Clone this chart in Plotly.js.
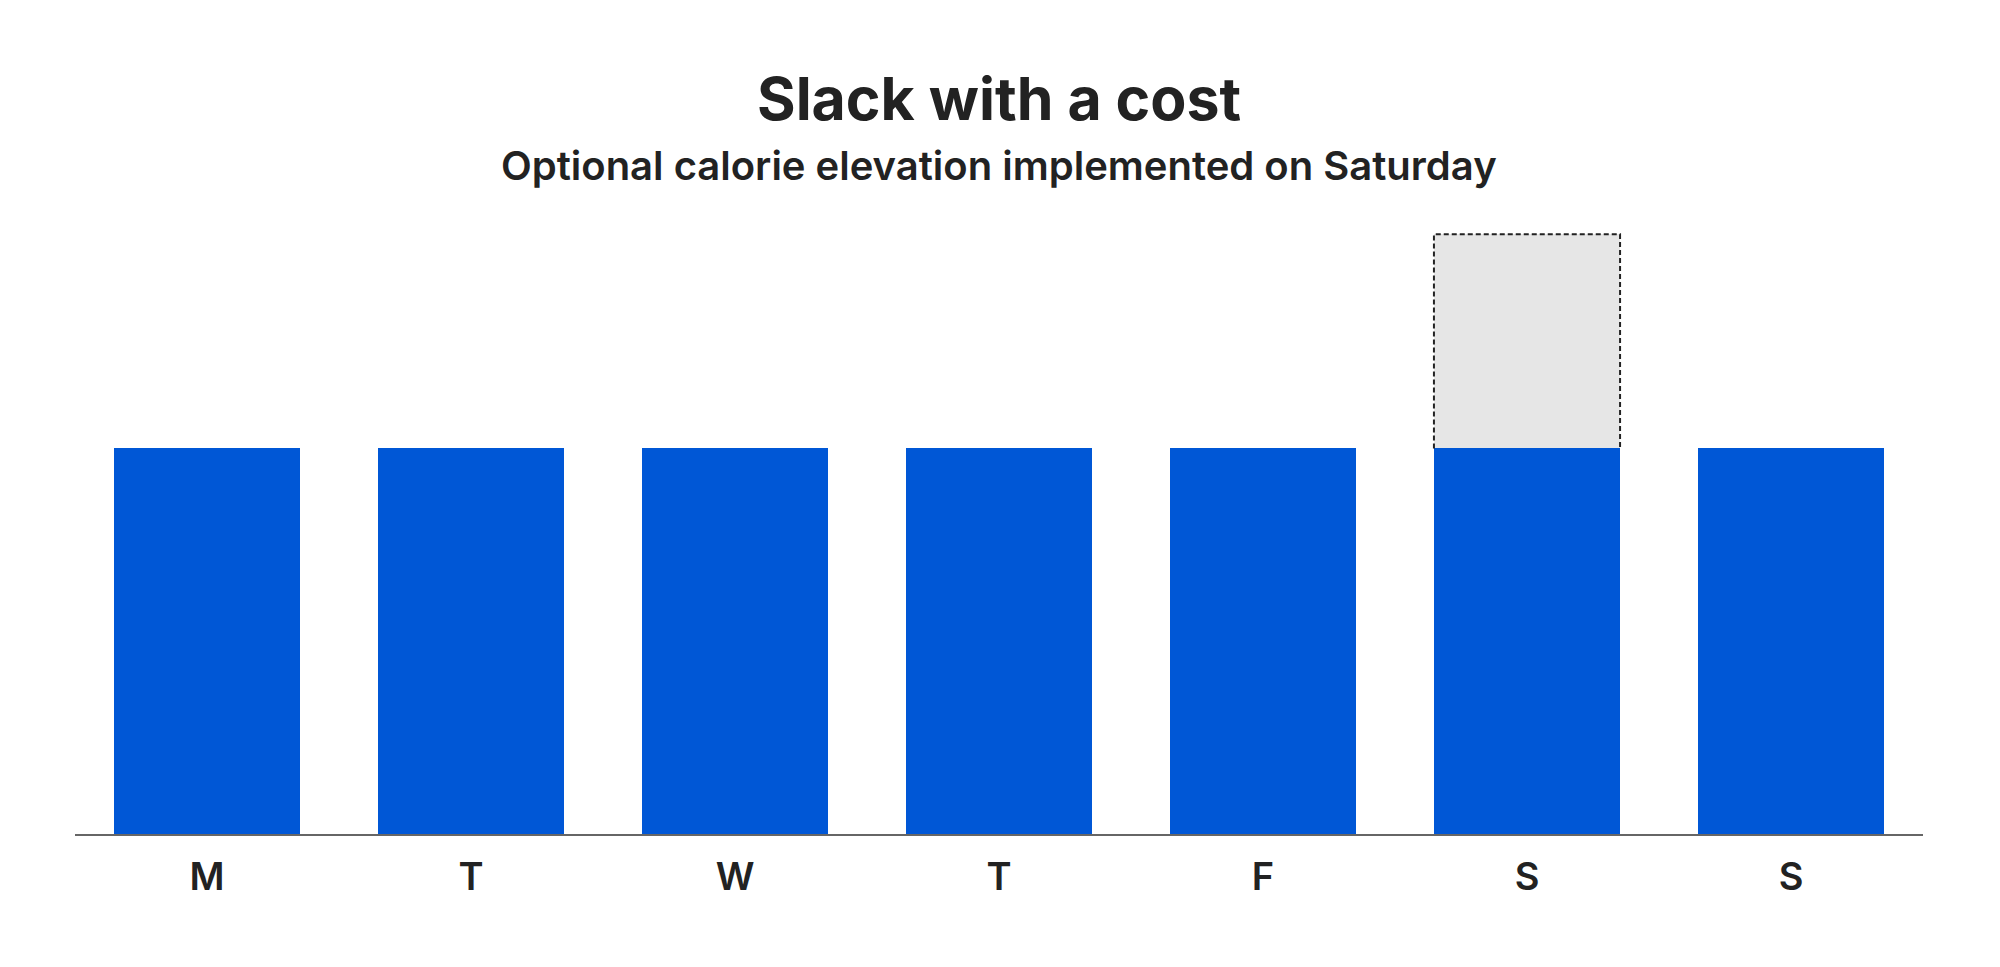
<!DOCTYPE html>
<html>
<head>
<meta charset="utf-8">
<script src="https://cdn.plot.ly/plotly-3.0.1.min.js"></script>
<style>html,body{margin:0;padding:0;background:#fff;}#chart{width:2000px;height:967px;}</style>
</head>
<body>
<div id="chart"></div>
<script>
const days = ["M", "T", "W", "T", "F", "S", "S"];
const baseCalories = [1800, 1800, 1800, 1800, 1800, 1800, 1800];
const slackCalories = [0, 0, 0, 0, 0, 1000, 0];
const titleText = "Slack with a cost";
const subtitleText = "Optional calorie elevation implemented on Saturday";

const idx = days.map((d, i) => i);
const barWidth = 0.705;

// dashed outline around slack bars, derived from data
const outX = [], outY = [];
slackCalories.forEach((s, i) => {
  if (s > 0) {
    const b = baseCalories[i], t = b + s;
    outX.push(i - barWidth / 2, i - barWidth / 2, i + barWidth / 2, i + barWidth / 2, null);
    outY.push(b, t, t, b, null);
  }
});

const traces = [
  {type: "bar", x: idx, y: baseCalories, width: barWidth, marker: {color: "#0057D6", line: {width: 0}}, hoverinfo: "skip"},
  {type: "bar", x: idx, y: slackCalories, width: barWidth, marker: {color: "#E6E6E6", line: {width: 0}}, hoverinfo: "skip"},
  {type: "scatter", mode: "lines", x: outX, y: outY, line: {color: "#222222", width: 2, dash: "5px,3px"}, hoverinfo: "skip", cliponaxis: false}
];

const layout = {
  width: 2000, height: 967,
  margin: {l: 75, r: 77, t: 230, b: 133},
  paper_bgcolor: "#ffffff", plot_bgcolor: "#ffffff",
  barmode: "stack",
  showlegend: false,
  font: {family: "Inter, 'Noto Sans', sans-serif", color: "#222222"},
  xaxis: {
    range: [-0.5, 6.5], tickmode: "array", tickvals: idx, ticktext: days,
    showgrid: false, zeroline: false, showline: true, linecolor: "#666666", linewidth: 1.5,
    ticks: "", ticklabelstandoff: 9,
    tickfont: {family: "Inter, sans-serif", size: 38, color: "#222222", weight: 600}
  },
  yaxis: {range: [0, 2820], visible: false, showgrid: false, zeroline: false},
  annotations: [
    {xref: "paper", yref: "paper", x: 0.5, y: (834 - 98) / 604, xanchor: "center", yanchor: "middle", showarrow: false,
     text: titleText, font: {family: "Inter, sans-serif", size: 59, color: "#222222", weight: 700}},
    {xref: "paper", yref: "paper", x: 0.5, y: (834 - 166) / 604, xanchor: "center", yanchor: "middle", showarrow: false,
     text: subtitleText, font: {family: "Inter, sans-serif", size: 40, color: "#222222", weight: 600}}
  ]
};

Plotly.newPlot("chart", traces, layout, {staticPlot: true, displayModeBar: false});
</script>
</body>
</html>
